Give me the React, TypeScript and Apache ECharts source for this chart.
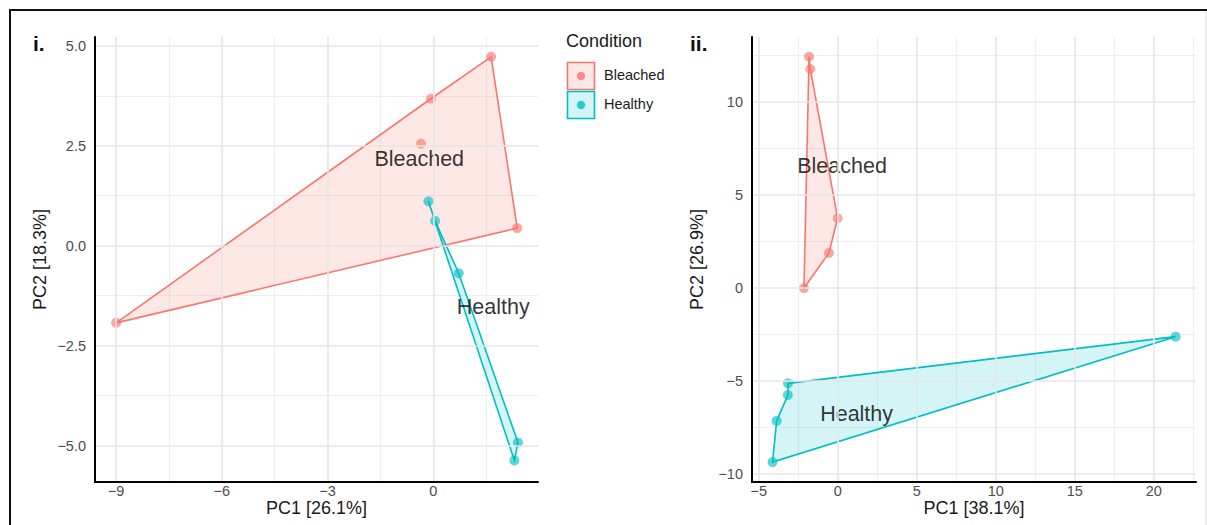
import React, { useEffect, useRef } from 'react';
import * as echarts from 'echarts';

const FONT = '"Liberation Sans", Arial, Helvetica, sans-serif';

const conditions = ['Bleached', 'Healthy'];
const colors = ['#F8766D', '#00BFC4'];
const pointFill = ['rgba(248,118,109,0.8)', 'rgba(0,191,196,0.8)'];
const hullFill = ['rgba(248,118,109,0.17)', 'rgba(0,191,196,0.17)'];

// Panel i. PCA scores
const iBleached: number[][] = [[-9.0, -1.93], [-0.07, 3.675], [1.64, 4.725], [2.38, 0.44], [-0.35, 2.55]];
const iHealthy: number[][] = [[-0.14, 1.11], [0.05, 0.62], [0.72, -0.69], [2.40, -4.92], [2.30, -5.37]];
const iHullBleached: number[][] = [[-9.0, -1.93], [-0.07, 3.675], [1.64, 4.725], [2.38, 0.44]];
const iHullHealthy: number[][] = [[-0.14, 1.11], [0.05, 0.62], [0.72, -0.69], [2.40, -4.92], [2.30, -5.37]];
const iGroupLabels: (number | string)[][] = [[-0.40, 2.17, 'Bleached'], [1.70, -1.545, 'Healthy']];
const iXTicks = [-9, -6, -3, 0];
const iXMinor = [-7.5, -4.5, -1.5, 1.5];
const iYTicks = [-5, -2.5, 0, 2.5, 5];
const iYMinor = [-3.75, -1.25, 1.25, 3.75];
const iXRange = [-9.6, 2.97];
const iYRange = [-5.91, 5.22];

// Panel ii. PCA scores
const iiBleached: number[][] = [[-1.82, 12.43], [-1.74, 11.77], [-0.01, 3.75], [-0.56, 1.89], [-2.14, 0.0]];
const iiHealthy: number[][] = [[-3.15, -5.12], [-3.16, -5.75], [-3.87, -7.14], [-4.13, -9.35], [21.38, -2.61]];
const iiHullBleached: number[][] = [[-1.82, 12.43], [-1.74, 11.77], [-0.01, 3.75], [-0.56, 1.89], [-2.14, 0.0]];
const iiHullHealthy: number[][] = [[-3.15, -5.12], [21.38, -2.61], [-4.13, -9.35], [-3.87, -7.14], [-3.16, -5.75]];
const iiGroupLabels: (number | string)[][] = [[0.27, 6.55, 'Bleached'], [1.19, -6.79, 'Healthy']];
const iiXTicks = [-5, 0, 5, 10, 15, 20];
const iiXMinor = [-2.5, 2.5, 7.5, 12.5, 17.5, 22.5];
const iiYTicks = [-10, -5, 0, 5, 10];
const iiYMinor = [-7.5, -2.5, 2.5, 7.5, 12.5];
const iiXRange = [-5.43, 22.67];
const iiYRange = [-10.42, 13.49];

const minus = (s: string) => s.replace('-', '\u2212');
const fmtInt = (v: number) => minus(String(Math.round(v)));
const fmt1 = (v: number) => minus(v.toFixed(1));

function mainAxis(isX: boolean, gridIndex: number, range: number[], ticks: number[], fmt: (v: number) => string, name: string, nameGap: number) {
  return {
    type: 'value',
    gridIndex,
    position: isX ? 'bottom' : 'left',
    min: range[0],
    max: range[1],
    name,
    nameLocation: 'middle',
    nameGap,
    nameMoveOverlap: false,
    nameTextStyle: { fontSize: 18, lineHeight: 14, color: '#1a1a1a', fontFamily: FONT },
    axisLine: { show: true, onZero: false, lineStyle: { color: '#000', width: 2 } },
    axisTick: { show: false, customValues: ticks },
    axisLabel: {
      show: true,
      customValues: ticks,
      formatter: fmt,
      color: '#4d4d4d',
      fontSize: 14.5,
      lineHeight: 12,
      fontFamily: FONT,
      margin: isX ? 3 : 9,
      hideOverlap: false,
    },
    splitLine: { show: true, lineStyle: { color: '#e6e6e6', width: 1.6 } },
    z: 5,
  };
}

function minorAxis(isX: boolean, gridIndex: number, range: number[], ticks: number[]) {
  return {
    type: 'value',
    gridIndex,
    position: isX ? 'top' : 'right',
    min: range[0],
    max: range[1],
    axisLine: { show: false },
    axisTick: { show: false, customValues: ticks },
    axisLabel: { show: false, customValues: ticks },
    splitLine: { show: true, lineStyle: { color: '#eeeeee', width: 1 } },
  };
}

function hullSeries(hull: number[][], k: number, axis: number) {
  return {
    type: 'custom',
    xAxisIndex: axis,
    yAxisIndex: axis,
    data: hull,
    silent: true,
    z: 2,
    renderItem: (params: any, api: any) => {
      if (params.dataIndex !== 0) return null;
      const pts = hull.map((p) => api.coord(p));
      return {
        type: 'polygon',
        shape: { points: pts },
        style: { fill: hullFill[k], stroke: colors[k], lineWidth: 1.6 },
      };
    },
  };
}

function pointSeries(pts: number[][], k: number, axis: number) {
  return {
    type: 'scatter',
    name: conditions[k],
    xAxisIndex: axis,
    yAxisIndex: axis,
    data: pts,
    symbol: 'circle',
    symbolSize: 10,
    itemStyle: { color: pointFill[k] },
    silent: true,
    z: 3,
  };
}

function labelSeries(labels: (number | string)[][], axis: number) {
  return {
    type: 'scatter',
    xAxisIndex: axis,
    yAxisIndex: axis,
    data: labels,
    symbol: 'circle',
    symbolSize: 1,
    itemStyle: { color: 'rgba(0,0,0,0)' },
    silent: true,
    z: 4,
    label: {
      show: true,
      position: 'inside',
      formatter: (p: any) => p.data[2],
      color: '#000',
      fontSize: 21.5,
      fontFamily: FONT,
    },
  };
}

export default function App() {
  const ref = useRef<HTMLDivElement>(null);
  useEffect(() => {
    document.body.style.margin = '0';
    const chart = echarts.init(ref.current!, null, { renderer: 'svg' });
    const legendItems: any[] = [];
    conditions.forEach((c, k) => {
      const top = 62.5 + k * 29;
      legendItems.push({
        type: 'rect',
        shape: { x: 567.5, y: top, width: 27, height: 27 },
        style: { fill: hullFill[k], stroke: colors[k], lineWidth: 1.6 },
      });
      legendItems.push({
        type: 'circle',
        shape: { cx: 581, cy: top + 13.5, r: 4.2 },
        style: { fill: pointFill[k] },
      });
      legendItems.push({
        type: 'text',
        x: 604,
        y: top + 12,
        style: { text: c, fill: '#1a1a1a', fontSize: 14.5, fontFamily: FONT, textAlign: 'left', textVerticalAlign: 'middle', align: 'left', verticalAlign: 'middle' },
      });
    });

    chart.setOption({
      animation: false,
      backgroundColor: '#fff',
      grid: [
        { left: 95, top: 37, width: 443, height: 445, outerBoundsMode: 'none', containLabel: false },
        { left: 752, top: 37, width: 444, height: 445, outerBoundsMode: 'none', containLabel: false },
      ],
      xAxis: [
        mainAxis(true, 0, iXRange, iXTicks, fmtInt, 'PC1 [26.1%]', 18.5),
        minorAxis(true, 0, iXRange, iXMinor),
        mainAxis(true, 1, iiXRange, iiXTicks, fmtInt, 'PC1 [38.1%]', 18.5),
        minorAxis(true, 1, iiXRange, iiXMinor),
      ],
      yAxis: [
        mainAxis(false, 0, iYRange, iYTicks, fmt1, 'PC2 [18.3%]', 48),
        minorAxis(false, 0, iYRange, iYMinor),
        mainAxis(false, 1, iiYRange, iiYTicks, fmtInt, 'PC2 [26.9%]', 48),
        minorAxis(false, 1, iiYRange, iiYMinor),
      ],
      series: [
        hullSeries(iHullBleached, 0, 0),
        hullSeries(iHullHealthy, 1, 0),
        pointSeries(iBleached, 0, 0),
        pointSeries(iHealthy, 1, 0),
        labelSeries(iGroupLabels, 0),
        hullSeries(iiHullBleached, 0, 2),
        hullSeries(iiHullHealthy, 1, 2),
        pointSeries(iiBleached, 0, 2),
        pointSeries(iiHealthy, 1, 2),
        labelSeries(iiGroupLabels, 2),
      ],
      graphic: [
        { type: 'line', shape: { x1: 9, y1: 10, x2: 1207, y2: 10 }, style: { stroke: '#111', lineWidth: 2 } },
        { type: 'line', shape: { x1: 10, y1: 9, x2: 10, y2: 525 }, style: { stroke: '#111', lineWidth: 2 } },
        { type: 'line', shape: { x1: 1206, y1: 11, x2: 1206, y2: 525 }, style: { stroke: '#dcdcdc', lineWidth: 1 } },
        {
          type: 'text', x: 33, y: 43,
          style: { text: 'i.', fill: '#111', fontSize: 21, fontWeight: 'bold', fontFamily: FONT, textAlign: 'left', textVerticalAlign: 'middle', align: 'left', verticalAlign: 'middle' },
        },
        {
          type: 'text', x: 690, y: 43,
          style: { text: 'ii.', fill: '#111', fontSize: 21, fontWeight: 'bold', fontFamily: FONT, textAlign: 'left', textVerticalAlign: 'middle', align: 'left', verticalAlign: 'middle' },
        },
        {
          type: 'text', x: 566, y: 41,
          style: { text: 'Condition', fill: '#1a1a1a', fontSize: 18, fontFamily: FONT, textAlign: 'left', textVerticalAlign: 'middle', align: 'left', verticalAlign: 'middle' },
        },
        ...legendItems,
      ],
    });
    return () => chart.dispose();
  }, []);
  return <div ref={ref} style={{ position: 'absolute', left: 0, top: 0, width: 1207, height: 525 }} />;
}
